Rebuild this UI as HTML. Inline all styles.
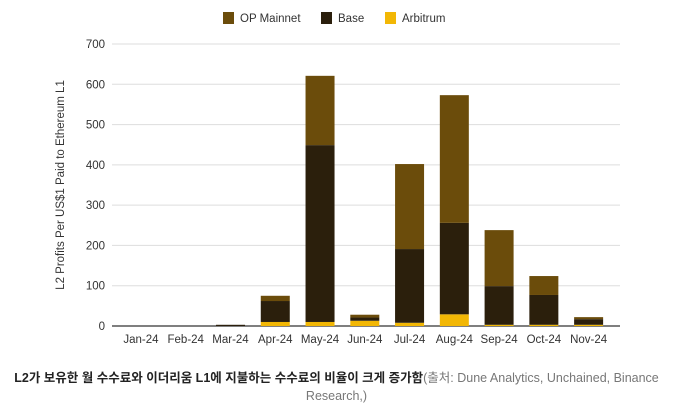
<!DOCTYPE html>
<html><head><meta charset="utf-8"><style>
body{margin:0;width:673px;height:409px;background:#fff;overflow:hidden;font-family:"Liberation Sans","Noto Sans CJK KR",sans-serif}
#cap{position:absolute;left:0;top:369px;width:673px;text-align:center;font-size:12.5px;line-height:18px;color:#777}
#cap b{color:#222}
</style></head><body>
<svg id="chart" width="673" height="360" style="position:absolute;left:0;top:0" font-family="Liberation Sans, sans-serif"></svg>
<div id="cap"><b>L2가 보유한 월 수수료와 이더리움 L1에 지불하는 수수료의 비율이 크게 증가함</b>(출처: Dune Analytics, Unchained, Binance<br>Research,)</div>
<script>
const categories=["Jan-24","Feb-24","Mar-24","Apr-24","May-24","Jun-24","Jul-24","Aug-24","Sep-24","Oct-24","Nov-24"];
const arbitrum=[0,0,0,10,10,13,8,29,3,3,3];
const base=[0,0,3,52,439,8,183,227,96,74,14];
const opMainnet=[0,0,0,13,172,7,211,317,139,47,5];
const ticks=[0,100,200,300,400,500,600,700];
const NS="http://www.w3.org/2000/svg";
const svg=document.getElementById('chart');
const y0=326,y1=44,vmax=700,xl=118.6,xr=611;
const y=v=>y0-(v/vmax)*(y0-y1);
const step=(xr-xl)/categories.length;
const xc=i=>xl+step*(i+0.5);
function mk(t,a){const e=document.createElementNS(NS,t);for(const k in a)e.setAttribute(k,a[k]);svg.appendChild(e);return e;}
ticks.forEach(t=>{
 const l=mk('line',{x1:112,x2:620,y1:y(t),y2:y(t),stroke:t===0?'#333':'#ddd','stroke-width':t===0?1.2:1});
 
 
 const tx=mk('text',{x:105,y:y(t)+4,'text-anchor':'end','font-size':11.5,fill:'#333'});
 tx.textContent=t;
 
 
});
const series=[[arbitrum,'#f2b705','arbitrum'],[base,'#2b1f0c','base'],[opMainnet,'#6b4c0b','op-mainnet']];
categories.forEach((c,i)=>{
 let acc=0;
 series.forEach(([arr,col,nm])=>{
  const v=arr[i];if(v<=0)return;
  const r=mk('rect',{x:xc(i)-14.5,y:y(acc+v),width:29,height:y(acc)-y(acc+v),fill:col});
  
  
  acc+=v;
 });
 const tx=mk('text',{x:xc(i),y:343,'text-anchor':'middle','font-size':11.5,fill:'#333'});
 tx.textContent=c;
 
 
});
const yt=mk('text',{transform:'translate(64,185) rotate(-90)','text-anchor':'middle','font-size':11.5,fill:'#333'});
yt.textContent='L2 Profits Per US$1 Paid to Ethereum L1';


[['OP Mainnet','#6b4c0b',223],['Base','#2b1f0c',321],['Arbitrum','#f2b705',385]].forEach(([n,c,x])=>{
 const g=mk('g',{});
 
 
 const r=document.createElementNS(NS,'rect');r.setAttribute('x',x);r.setAttribute('y',12);r.setAttribute('width',11);r.setAttribute('height',12);r.setAttribute('fill',c);g.appendChild(r);
 const t=document.createElementNS(NS,'text');t.setAttribute('x',x+17);t.setAttribute('y',22);t.setAttribute('font-size',11.5);t.setAttribute('fill','#333');t.textContent=n;g.appendChild(t);
});
</script>
</body></html>
